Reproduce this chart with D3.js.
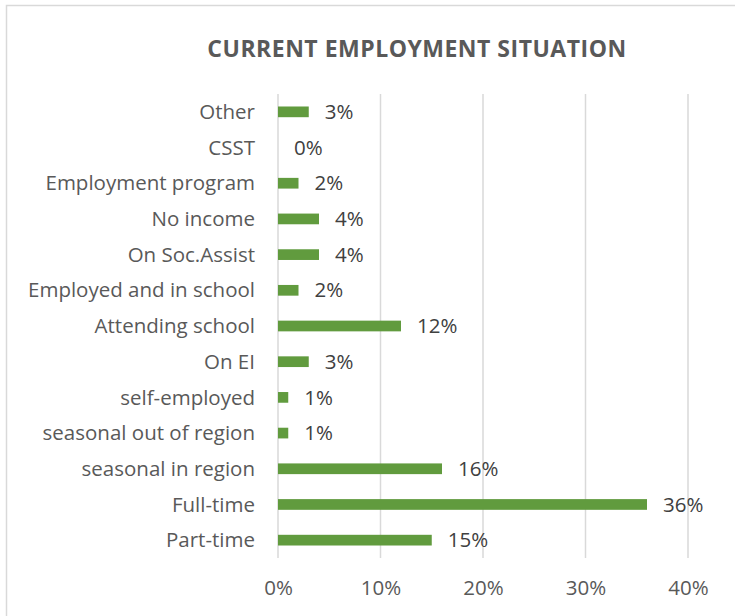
<!DOCTYPE html>
<html>
<head>
<meta charset="utf-8">
<script src="https://cdn.jsdelivr.net/npm/d3@7"></script>
<style>
  html, body { margin: 0; padding: 0; background: #fff; }
  svg { display: block; }
</style>
</head>
<body>
<svg id="chart" width="735" height="616"></svg>
<script>
// Employment situation categories, top to bottom
const categories = [
  "Other", "CSST", "Employment program", "No income", "On Soc.Assist",
  "Employed and in school", "Attending school", "On EI", "self-employed",
  "seasonal out of region", "seasonal in region", "Full-time", "Part-time"
];
// Share of respondents (%)
const values = [3, 0, 2, 4, 4, 2, 12, 3, 1, 1, 16, 36, 15];
const xTicks = [0, 10, 20, 30, 40];
const title = "CURRENT EMPLOYMENT SITUATION";

const FONT = "'Open Sans', Lato, sans-serif";
const LABEL_SIZE = 20.5;
const svg = d3.select("#chart");

// chart frame
svg.append("rect")
  .attr("x", 6.5).attr("y", 5.5)
  .attr("width", 760).attr("height", 640)
  .attr("fill", "#fff")
  .attr("stroke", "#d9d9d9").attr("stroke-width", 1.5);

const plot = { left: 278, right: 688, top: 94, bottom: 558 };

const x = d3.scaleLinear().domain([0, 40]).range([plot.left, plot.right]);
const y = d3.scaleBand().domain(categories)
  .range([plot.top, plot.bottom]).paddingInner(0.7).paddingOuter(0.35);

// title
svg.append("text")
  .attr("x", 417).attr("y", 57)
  .attr("text-anchor", "middle")
  .attr("font-family", FONT).attr("font-weight", "bold")
  .attr("font-size", 23).attr("letter-spacing", 0.5)
  .attr("fill", "#595959")
  .text(title);

// vertical gridlines
svg.append("g").selectAll("line")
  .data(xTicks).join("line")
  .attr("x1", d => x(d)).attr("x2", d => x(d))
  .attr("y1", plot.top).attr("y2", plot.bottom)
  .attr("stroke", "#d9d9d9").attr("stroke-width", 1.5);

// x axis tick labels
const xAxis = d3.axisBottom(x).tickValues(xTicks)
  .tickFormat(d => d + "%").tickSize(0).tickPadding(0);
const gx = svg.append("g")
  .attr("transform", `translate(0,${plot.bottom + 22})`)
  .call(xAxis);
gx.select(".domain").remove();
gx.selectAll("text")
  .attr("font-family", FONT).attr("font-size", LABEL_SIZE)
  .attr("fill", "#595959").attr("dy", "0.71em");

// category labels
const yAxis = d3.axisLeft(y).tickSize(0).tickPadding(0);
const gy = svg.append("g")
  .attr("transform", `translate(${plot.left - 23},0)`)
  .call(yAxis);
gy.select(".domain").remove();
gy.selectAll("text")
  .attr("font-family", FONT).attr("font-size", LABEL_SIZE)
  .attr("fill", "#595959").attr("dy", "0.35em");

// bars
const rows = categories.map((c, i) => ({ cat: c, val: values[i] }));
svg.append("g").selectAll("rect")
  .data(rows).join("rect")
  .attr("x", x(0))
  .attr("y", d => y(d.cat))
  .attr("width", d => x(d.val) - x(0))
  .attr("height", y.bandwidth())
  .attr("fill", "#619b3e");

// value labels
svg.append("g").selectAll("text")
  .data(rows).join("text")
  .attr("x", d => x(d.val) + 16)
  .attr("y", d => y(d.cat) + y.bandwidth() / 2)
  .attr("dy", "0.35em")
  .attr("font-family", FONT).attr("font-size", LABEL_SIZE)
  .attr("fill", "#404040")
  .text(d => d.val + "%");
</script>
</body>
</html>
